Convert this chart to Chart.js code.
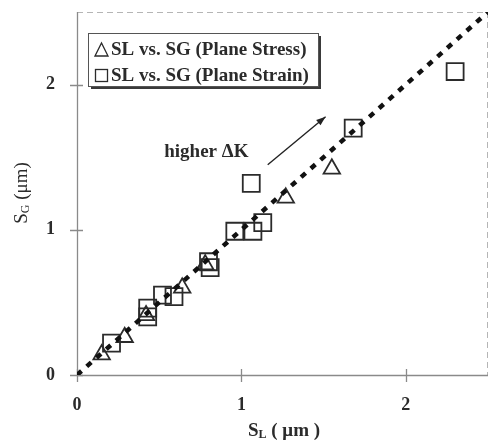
<!DOCTYPE html>
<html>
<head>
<meta charset="utf-8">
<script src="https://cdn.jsdelivr.net/npm/chart.js@4"></script>
<style>
  body { margin: 0; background: #fff; }
  #wrap { width: 490px; height: 445px; }
</style>
</head>
<body>
<div id="wrap"><canvas id="chartSlip" width="490" height="445"></canvas></div>
<script>
// values (S_L, S_G in micrometres)
const stressSL = [0.15, 0.29, 0.42, 0.64, 0.78, 1.27, 1.55];
const stressSG = [0.14, 0.26, 0.41, 0.60, 0.76, 1.22, 1.42];
const strainSL = [0.21, 0.43, 0.43, 0.52, 0.59, 0.80, 0.81, 0.96, 1.07, 1.13, 1.06, 1.68, 2.30];
const strainSG = [0.22, 0.40, 0.46, 0.55, 0.54, 0.78, 0.74, 0.99, 0.99, 1.05, 1.32, 1.70, 2.09];
const lineSL = [0, 2.5];
const lineSG = [0, 2.5];
const xTicks = [0, 1, 2];
const yTicks = [0, 1, 2];
const legendLabels = ["SL vs. SG (Plane Stress)", "SL vs. SG (Plane Strain)"];
const arrowNote = "higher \u0394K";

function pairs(xs, ys) {
  let out = [];
  for (let i = 0; i < xs.length; i++) {
    out.push({ x: xs[i], y: ys[i] });
  }
  return out;
}

const serif = '"Liberation Serif", "DejaVu Serif", serif';
const ink = "#2b2b2b";

// draws "S" + subscript + rest, starting at x (left aligned)
function subText(ctx, x, y, main, sub, rest, size, bold) {
  let w = bold ? "bold " : "";
  ctx.font = w + size + "px " + serif;
  ctx.fillText(main, x, y);
  x += ctx.measureText(main).width;
  ctx.font = w + Math.round(size * 0.65) + "px " + serif;
  ctx.fillText(sub, x, y + size * 0.22);
  x += ctx.measureText(sub).width;
  ctx.font = w + size + "px " + serif;
  ctx.fillText(rest, x, y);
}

function subWidth(ctx, main, sub, rest, size, bold) {
  let w = bold ? "bold " : "";
  ctx.font = w + size + "px " + serif;
  let total = ctx.measureText(main).width + ctx.measureText(rest).width;
  ctx.font = w + Math.round(size * 0.65) + "px " + serif;
  return total + ctx.measureText(sub).width;
}

function noPad(scale) {
  scale.paddingTop = 0;
  scale.paddingBottom = 0;
  scale.paddingLeft = 0;
  scale.paddingRight = 0;
}

const framePlugin = {
  id: "frame",
  beforeDatasetsDraw(chart) {
    const ctx = chart.ctx;
    const a = chart.chartArea;
    const xs = chart.scales.x;
    const ys = chart.scales.y;
    ctx.save();
    // dashed top and right edge
    ctx.strokeStyle = "#b5b5b5";
    ctx.lineWidth = 1;
    ctx.setLineDash([6, 4]);
    ctx.beginPath();
    ctx.moveTo(a.left, a.top + 0.5);
    ctx.lineTo(a.right - 0.5, a.top + 0.5);
    ctx.lineTo(a.right - 0.5, a.bottom);
    ctx.stroke();
    ctx.setLineDash([]);
    // solid axes
    ctx.strokeStyle = "#8a8a8a";
    ctx.lineWidth = 1.3;
    ctx.beginPath();
    ctx.moveTo(a.left + 0.5, a.top);
    ctx.lineTo(a.left + 0.5, a.bottom + 0.5);
    ctx.lineTo(a.right, a.bottom + 0.5);
    ctx.stroke();
    // tick marks across the axes
    ctx.beginPath();
    xTicks.forEach(function (v) {
      let px = Math.round(xs.getPixelForValue(v)) + 0.5;
      ctx.moveTo(px, a.bottom - 6);
      ctx.lineTo(px, a.bottom + 7);
    });
    yTicks.forEach(function (v) {
      let py = Math.round(ys.getPixelForValue(v)) + 0.5;
      ctx.moveTo(a.left - 7, py);
      ctx.lineTo(a.left + 6, py);
    });
    ctx.stroke();
    ctx.restore();
  },
  afterDraw(chart) {
    const ctx = chart.ctx;
    const xs = chart.scales.x;
    const ys = chart.scales.y;
    ctx.save();
    ctx.fillStyle = ink;
    ctx.textBaseline = "middle";

    // axis titles
    let wx = subWidth(ctx, "S", "L", " ( \u03bcm )", 19, true);
    subText(ctx, 284 - wx / 2, 431, "S", "L", " ( \u03bcm )", 19, true);
    ctx.save();
    ctx.translate(22, 193);
    ctx.rotate(-Math.PI / 2);
    let wy = subWidth(ctx, "S", "G", " (\u03bcm)", 19, false);
    subText(ctx, -wy / 2, 0, "S", "G", " (\u03bcm)", 19, false);
    ctx.restore();

    // legend box with shadow
    let bx = 88, by = 33, bw = 230, bh = 53;
    ctx.fillStyle = "#3a3a3a";
    ctx.fillRect(bx + 3, by + 3, bw, bh);
    ctx.fillStyle = "#fff";
    ctx.fillRect(bx, by, bw, bh);
    ctx.strokeStyle = "#555";
    ctx.lineWidth = 1;
    ctx.strokeRect(bx + 0.5, by + 0.5, bw, bh);
    ctx.strokeStyle = ink;
    ctx.lineWidth = 1.3;
    ctx.beginPath();
    ctx.moveTo(95, 56);
    ctx.lineTo(101.5, 43);
    ctx.lineTo(108, 56);
    ctx.closePath();
    ctx.stroke();
    ctx.strokeRect(95.5, 69.5, 12, 12);
    ctx.fillStyle = ink;
    ctx.font = "bold 19px " + serif;
    ctx.fillText(legendLabels[0], 111, 50);
    ctx.fillText(legendLabels[1], 111, 76);

    // annotation
    ctx.font = "bold 19px " + serif;
    ctx.textAlign = "center";
    ctx.fillText(arrowNote, xs.getPixelForValue(0.787), ys.getPixelForValue(1.538));
    let x0 = xs.getPixelForValue(1.16), y0 = ys.getPixelForValue(1.448);
    let x1 = xs.getPixelForValue(1.512), y1 = ys.getPixelForValue(1.779);
    let ang = Math.atan2(y1 - y0, x1 - x0);
    ctx.strokeStyle = "#222";
    ctx.lineWidth = 1.4;
    ctx.beginPath();
    ctx.moveTo(x0, y0);
    ctx.lineTo(x1, y1);
    ctx.stroke();
    ctx.beginPath();
    ctx.moveTo(x1, y1);
    ctx.lineTo(x1 - 10 * Math.cos(ang - 0.35), y1 - 10 * Math.sin(ang - 0.35));
    ctx.lineTo(x1 - 10 * Math.cos(ang + 0.35), y1 - 10 * Math.sin(ang + 0.35));
    ctx.closePath();
    ctx.fillStyle = "#222";
    ctx.fill();
    ctx.restore();
  },
};

const ctx = document.getElementById("chartSlip").getContext("2d");
const chartSlip = new Chart(ctx, {
  type: "scatter",
  data: {
    datasets: [
      {
        type: "line",
        label: "S_G = S_L",
        data: pairs(lineSL, lineSG),
        borderColor: "#111",
        borderWidth: 4.5,
        borderDash: [6, 7],
        pointRadius: 0,
        fill: false,
      },
      {
        label: legendLabels[0],
        data: pairs(stressSL, stressSG),
        pointStyle: "triangle",
        pointRadius: 9.5,
        backgroundColor: "rgba(0,0,0,0)",
        borderColor: ink,
        borderWidth: 1.8,
      },
      {
        label: legendLabels[1],
        data: pairs(strainSL, strainSG),
        pointStyle: "rect",
        pointRadius: 12,
        backgroundColor: "rgba(0,0,0,0)",
        borderColor: ink,
        borderWidth: 1.8,
      },
    ],
  },
  options: {
    responsive: false,
    animation: false,
    devicePixelRatio: 1,
    layout: { autoPadding: false, padding: { top: 12, right: 2, left: 0, bottom: 0 } },
    plugins: {
      legend: { display: false },
      tooltip: { enabled: false },
    },
    scales: {
      x: {
        type: "linear",
        min: 0,
        max: 2.5,
        grid: { display: false },
        border: { display: false },
        afterBuildTicks: function (scale) {
          scale.ticks = xTicks.map(function (v) { return { value: v }; });
        },
        afterFit: function (scale) { scale.height = 70; noPad(scale); },
        ticks: {
          padding: 12,
          color: ink,
          font: { family: serif, size: 18, weight: "bold" },
        },
      },
      y: {
        type: "linear",
        min: 0,
        max: 2.5,
        grid: { display: false },
        border: { display: false },
        afterBuildTicks: function (scale) {
          scale.ticks = yTicks.map(function (v) { return { value: v }; });
        },
        afterFit: function (scale) { scale.width = 77; noPad(scale); },
        ticks: {
          padding: 14,
          color: ink,
          font: { family: serif, size: 18, weight: "bold" },
        },
      },
    },
  },
  plugins: [framePlugin],
});
</script>
</body>
</html>
